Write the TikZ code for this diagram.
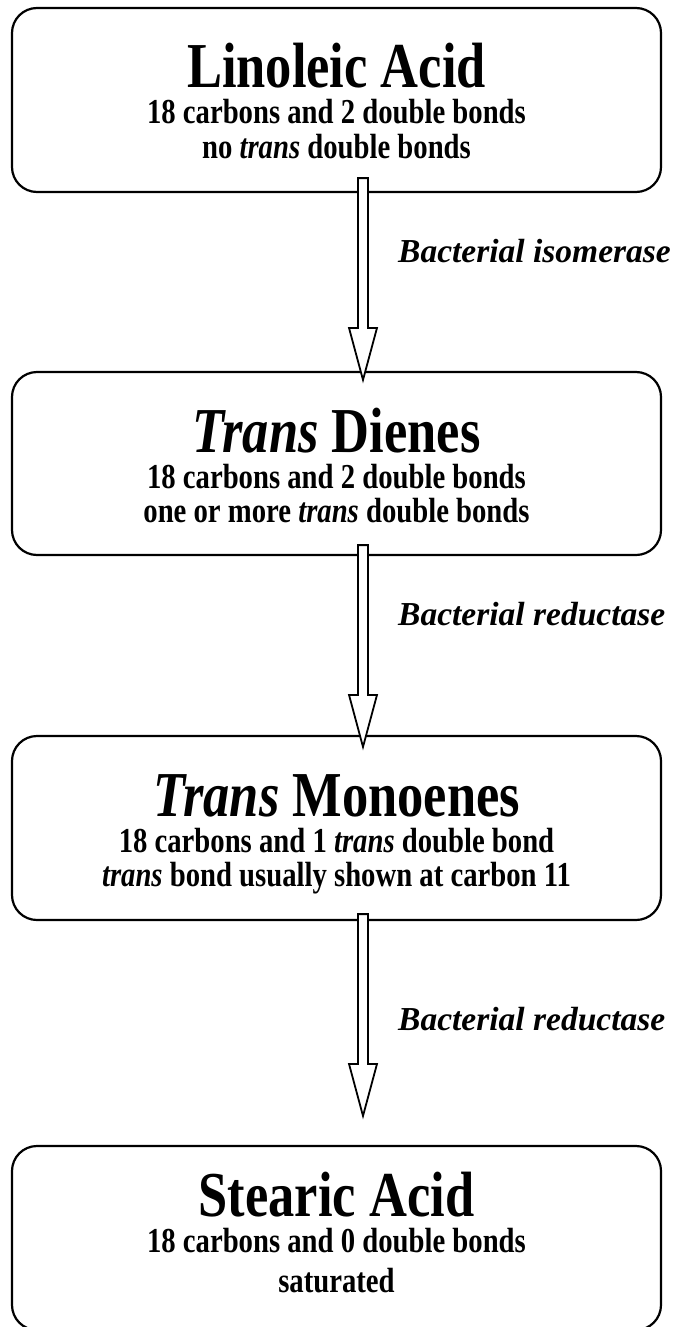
\documentclass[tikz,border=0pt]{standalone}
\usepackage{fontspec}
\setmainfont{Liberation Serif}
\newfontfamily\cf{Liberation Serif}[FakeStretch=0.82]
\usetikzlibrary{calc}
\newcommand\fatarr[2]{\draw[fat] ($(#1)+(-5,0)$) -- ($(#2)+(-5,-52)$) -- ($(#2)+(-14,-52)$) -- (#2) -- ($(#2)+(14,-52)$) -- ($(#2)+(5,-52)$) -- ($(#1)+(5,0)$) -- cycle;}
\begin{document}
\begin{tikzpicture}[x=1pt,y=-1pt,
 box/.style={draw, line width=2.2pt, rounded corners=25pt, minimum width=649pt, inner sep=0pt},
 ttl/.style={anchor=base, inner sep=0pt, font=\cf\bfseries\fontsize{64}{64}\selectfont},
 sub/.style={anchor=base, inner sep=0pt, font=\cf\bfseries\fontsize{35}{35}\selectfont},
 lbl/.style={anchor=base west, inner sep=0pt, font=\bfseries\itshape\fontsize{33.5}{33.5}\selectfont},
 fat/.style={draw, line width=1.8pt, fill=white, line join=miter}]
\useasboundingbox (0,0) rectangle (673,1327);
% boxes
\node[box, minimum height=184pt] (b1) at (336.5,100) {};
\node[box, minimum height=183pt] (b2) at (336.5,463.5) {};
\node[box, minimum height=184pt] (b3) at (336.5,828) {};
\node[box, minimum height=184pt] (b4) at (336.5,1238) {};
% texts
\node[ttl] (t1) at (336.5,88) {Linoleic Acid};
\node[sub] (s1a) at (336.5,124) {18 carbons and 2 double bonds};
\node[sub] (s1b) at (336.5,158) {no \textit{trans} double bonds};
\node[ttl] (t2) at (336.5,452) {\textit{Trans} Dienes};
\node[sub] (s2a) at (336.5,488) {18 carbons and 2 double bonds};
\node[sub] (s2b) at (336.5,522) {one or more \textit{trans} double bonds};
\node[ttl] (t3) at (336.5,816) {\textit{Trans} Monoenes};
\node[sub] (s3a) at (336.5,852) {18 carbons and 1 \textit{trans} double bond};
\node[sub] (s3b) at (336.5,886) {\textit{trans} bond usually shown at carbon 11};
\node[ttl] (t4) at (336.5,1216) {Stearic Acid};
\node[sub] (s4a) at (336.5,1252) {18 carbons and 0 double bonds};
\node[sub] (s4b) at (336.5,1292) {saturated};
% arrows
\coordinate (a1s) at ([xshift=26.5pt,yshift=15pt]b1.south);
\coordinate (a1e) at ([xshift=26.5pt,yshift=-9pt]b2.north);
\coordinate (a2s) at ([xshift=26.5pt,yshift=11pt]b2.south);
\coordinate (a2e) at ([xshift=26.5pt,yshift=-12pt]b3.north);
\coordinate (a3s) at ([xshift=26.5pt,yshift=7pt]b3.south);
\coordinate (a3e) at ([xshift=26.5pt,yshift=29pt]b4.north);
\fatarr{a1s}{a1e}
\fatarr{a2s}{a2e}
\fatarr{a3s}{a3e}
% labels
\node[lbl] (l1) at (398,262) {Bacterial isomerase};
\node[lbl] (l2) at (398,625) {Bacterial reductase};
\node[lbl] (l3) at (398,1030) {Bacterial reductase};
\end{tikzpicture}
\end{document}
